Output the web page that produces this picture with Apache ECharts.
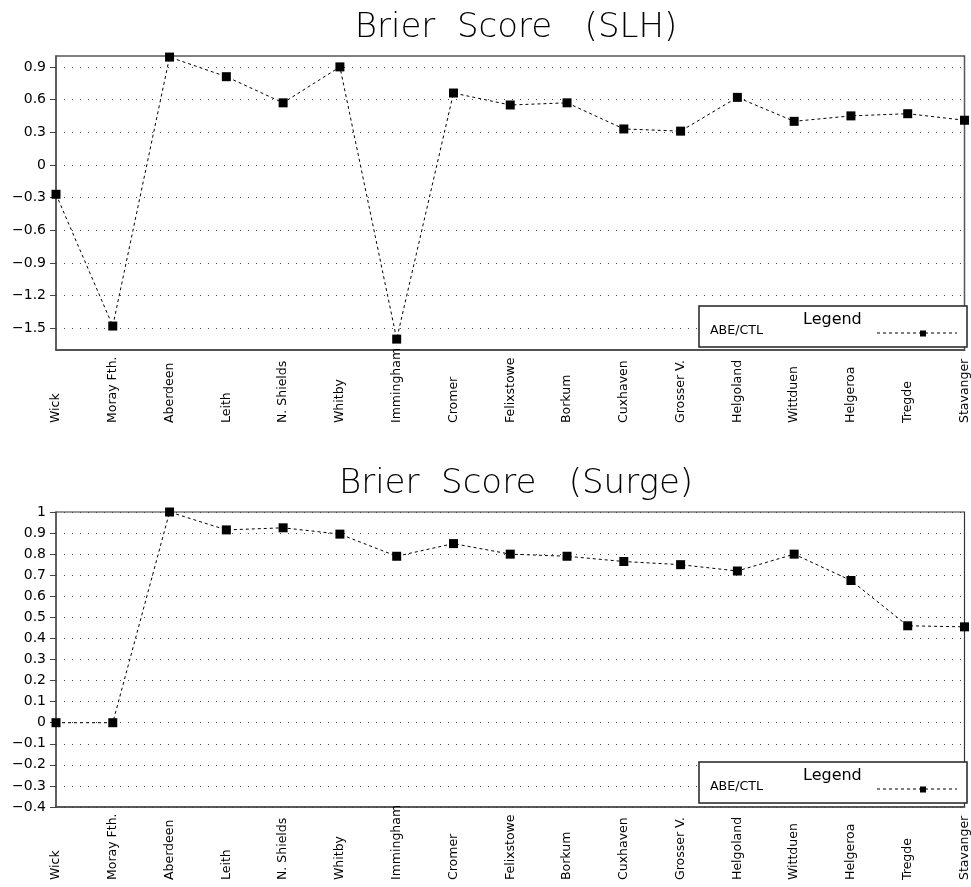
<!DOCTYPE html>
<html>
<head>
<meta charset="utf-8">
<style>
  html, body { margin: 0; padding: 0; background: #fff; }
  #chart { width: 971px; height: 887px; }
</style>
<script src="https://cdn.jsdelivr.net/npm/echarts@6/dist/echarts.min.js"></script>
</head>
<body>
<div id="chart"></div>
<script>
// Tide-gauge stations along the North Sea coast
const stations = ['Wick', 'Moray Fth.', 'Aberdeen', 'Leith', 'N. Shields', 'Whitby',
  'Immingham', 'Cromer', 'Felixstowe', 'Borkum', 'Cuxhaven', 'Grosser V.',
  'Helgoland', 'Wittduen', 'Helgeroa', 'Tregde', 'Stavanger'];

// Brier skill, ABE relative to CTL, sea level height
const slhScores = [-0.27, -1.48, 0.99, 0.81, 0.57, 0.90, -1.60, 0.66, 0.55, 0.57,
  0.33, 0.31, 0.62, 0.40, 0.45, 0.47, 0.41];

// Brier skill, ABE relative to CTL, surge
const surgeScores = [0.00, 0.00, 1.00, 0.915, 0.925, 0.895, 0.79, 0.85, 0.80, 0.79,
  0.765, 0.75, 0.72, 0.80, 0.675, 0.46, 0.455];

// Tick values of the two value axes
const slhTicks = [-1.5, -1.2, -0.9, -0.6, -0.3, 0, 0.3, 0.6, 0.9];
const slhRange = [-1.7, 1.0];
const surgeRange = [-0.4, 1.0];
const surgeStep = 0.1;

const seriesName = 'ABE/CTL';
const titles = ['Brier  Score   (SLH)', 'Brier  Score   (Surge)'];

const FONT = '"DejaVu Sans", sans-serif';
const fmt = v => {
  const r = Math.round(v * 10) / 10;
  return String(r).replace('-', '\u2212');
};

const grids = [
  { left: 56, right: 4, top: 56, height: 294, show: true, borderColor: '#555', borderWidth: 1.5, backgroundColor: '#fff' },
  { left: 56, right: 4, top: 512, height: 295, show: true, borderColor: '#333', borderWidth: 1.2, backgroundColor: '#fff' }
];

const xAxisBase = idx => ({
  type: 'category',
  gridIndex: idx,
  data: stations,
  boundaryGap: false,
  axisLine: { show: true, onZero: false, lineStyle: { color: '#444', width: 1.5 } },
  axisTick: { show: false },
  splitLine: { show: false },
  axisLabel: {
    rotate: 90,
    align: 'left',
    verticalAlign: 'middle',
    margin: 73,
    interval: 0,
    color: '#000',
    fontFamily: FONT,
    fontSize: 12.5
  }
});

const gridLine = { show: true, lineStyle: { color: '#444', width: 1, type: [1, 7] } };

const yAxes = [
  {
    type: 'value',
    gridIndex: 0,
    min: slhRange[0],
    max: slhRange[1],
    axisLine: { show: true, lineStyle: { color: '#555', width: 1.5 } },
    axisTick: { show: true, length: 6, inside: false, customValues: slhTicks, lineStyle: { color: '#444' } },
    axisLabel: { customValues: slhTicks, formatter: fmt, color: '#000', fontFamily: FONT, fontSize: 14, margin: 10 },
    splitLine: gridLine
  },
  {
    type: 'value',
    gridIndex: 1,
    min: surgeRange[0],
    max: surgeRange[1],
    interval: surgeStep,
    axisLine: { show: true, lineStyle: { color: '#555', width: 1.5 } },
    axisTick: { show: true, length: 6, inside: false, lineStyle: { color: '#444' } },
    axisLabel: { formatter: fmt, color: '#000', fontFamily: FONT, fontSize: 14, margin: 10 },
    splitLine: gridLine
  }
];

const lineSeries = (idx, data) => ({
  name: seriesName,
  type: 'line',
  xAxisIndex: idx,
  yAxisIndex: idx,
  data: data,
  symbol: 'rect',
  symbolSize: 9,
  showAllSymbol: true,
  itemStyle: { color: '#000' },
  lineStyle: { color: '#000', width: 1, type: [3, 3] },
  silent: true,
  animation: false
});

// Legend box drawn inside each plot's lower-right corner
const legendBox = (top) => ([
  { type: 'rect', shape: { x: 699, y: top, width: 268, height: 41 },
    style: { fill: '#fff', stroke: '#222', lineWidth: 1.5 }, z: 10 },
  { type: 'text', x: 803, y: top + 22, style: { text: 'Legend', fontFamily: FONT, fontSize: 16, fill: '#000', textVerticalAlign: 'bottom' }, z: 11 },
  { type: 'text', x: 710, y: top + 31, style: { text: seriesName, fontFamily: FONT, fontSize: 12.6, fill: '#000', textVerticalAlign: 'bottom' }, z: 11 },
  { type: 'line', shape: { x1: 877, y1: top + 27, x2: 957, y2: top + 27 },
    style: { stroke: '#000', lineWidth: 1, lineDash: [3, 3] }, z: 11 },
  { type: 'rect', shape: { x: 920, y: top + 24.5, width: 6, height: 6 }, style: { fill: '#000' }, z: 12 }
]);

const chart = echarts.init(document.getElementById('chart'), null, { renderer: 'canvas' });
chart.setOption({
  backgroundColor: '#fff',
  animation: false,
  title: [
    { text: titles[0], left: 511, top: 6, textAlign: 'center',
      textStyle: { fontFamily: FONT, fontWeight: 200, fontSize: 34, color: '#000' } },
    { text: titles[1], left: 511, top: 462, textAlign: 'center',
      textStyle: { fontFamily: FONT, fontWeight: 200, fontSize: 34, color: '#000' } }
  ],
  grid: grids,
  xAxis: [xAxisBase(0), xAxisBase(1)],
  yAxis: yAxes,
  series: [lineSeries(0, slhScores), lineSeries(1, surgeScores)],
  graphic: [...legendBox(306), ...legendBox(762)]
});
</script>
</body>
</html>
